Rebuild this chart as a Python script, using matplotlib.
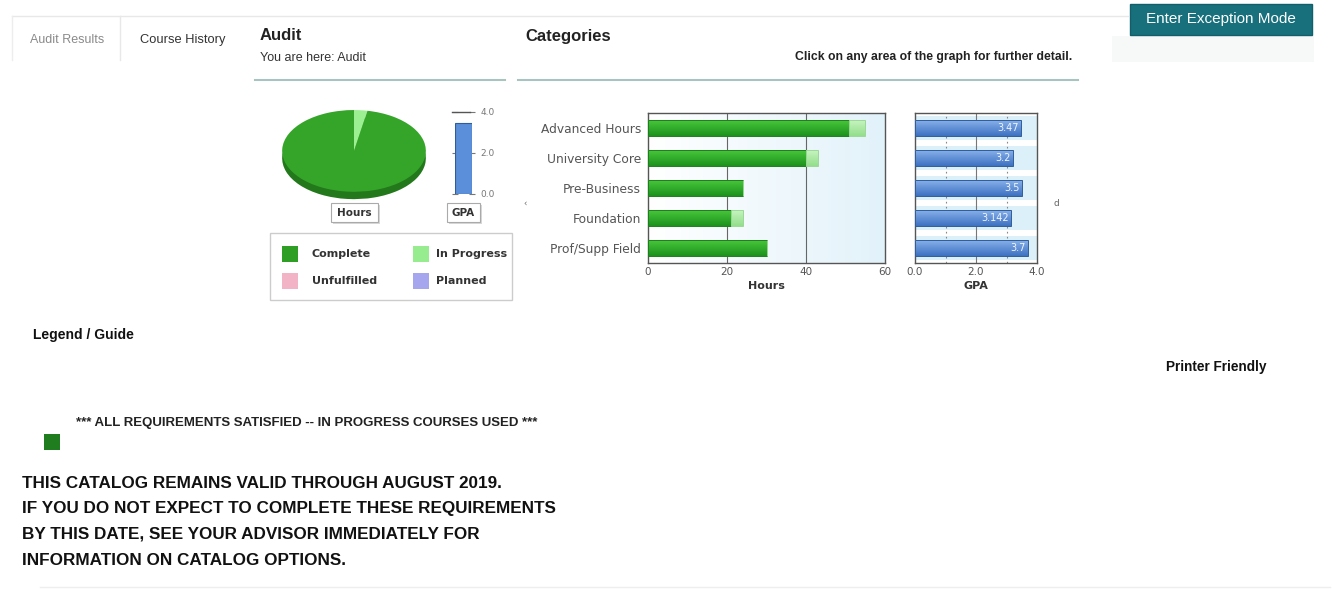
import numpy as np
import matplotlib
matplotlib.use('Agg')
import matplotlib.pyplot as plt
from matplotlib.patches import Rectangle
from matplotlib.colors import LinearSegmentedColormap

plt.rcParams['font.family'] = ['Liberation Sans', 'DejaVu Sans']

# values
categories = ['Advanced Hours', 'University Core', 'Pre-Business', 'Foundation', 'Prof/Supp Field']
complete_hours = [51, 40, 24, 21, 30]
in_progress_hours = [4, 3, 0, 3, 0]
category_gpa = [3.47, 3.2, 3.5, 3.142, 3.7]
gpa_labels = ['3.47', '3.2', '3.5', '3.142', '3.7']
overall_gpa = 3.47
pie_labels = ['In Progress', 'Complete']
pie_share = [3, 97]
hours_ticks = [0, 20, 40, 60]
gpa_ticks = [0.0, 2.0, 4.0]
legend_labels = ['Complete', 'In Progress', 'Unfulfilled', 'Planned']
legend_colors = ['#2e9e24', '#98ec90', '#f2b3c6', '#a6a6ee']
catalog_lines = [
    'THIS CATALOG REMAINS VALID THROUGH AUGUST 2019.',
    'IF YOU DO NOT EXPECT TO COMPLETE THESE REQUIREMENTS',
    'BY THIS DATE, SEE YOUR ADVISOR IMMEDIATELY FOR',
    'INFORMATION ON CATALOG OPTIONS.',
]

W, H = 1336, 590
CHART_FONT = 'DejaVu Sans'


def box(x0, y0, x1, y1):
    # pixel box (top-left origin) -> figure rect
    return [x0 / W, 1 - y1 / H, (x1 - x0) / W, (y1 - y0) / H]


def gradient_bars(ax, bars, top, bottom):
    cmap = LinearSegmentedColormap.from_list('g', [top, bottom])
    grad = np.linspace(0, 1, 32).reshape(-1, 1)
    for b in bars:
        if b.get_width() <= 0:
            continue
        x, y = b.get_x(), b.get_y()
        im = ax.imshow(grad, cmap=cmap, aspect='auto', origin='lower',
                       extent=[x, x + b.get_width(), y, y + b.get_height()],
                       zorder=2.9)
        im.set_clip_path(b)


def chart_axis_style(ax):
    for s in ax.spines.values():
        s.set_color('#555555')
        s.set_linewidth(1.0)
    ax.tick_params(length=0, colors='#555555')


fig = plt.figure(figsize=(W / 100, H / 100), dpi=100)

# ---- page layer (pixel coordinates) ----
page = fig.add_axes([0, 0, 1, 1], zorder=0)
page.set_xlim(0, W)
page.set_ylim(H, 0)
page.axis('off')

page.plot([12, 1128], [16, 16], color='#e8e8e8', lw=1)
page.plot([12, 12], [16, 60], color='#ededed', lw=1)
page.plot([120, 120], [16, 60], color='#e8e8e8', lw=1)
page.text(30, 40, 'Audit Results', fontsize=9, color='#8a8a8a', va='center')
page.text(140, 40, 'Course History', fontsize=9.3, color='#333333', va='center')

page.text(260, 36, 'Audit', fontsize=12, fontweight='bold', color='#222222', va='center')
page.text(260, 58, 'You are here: Audit', fontsize=9, color='#333333', va='center')
page.text(525, 37, 'Categories', fontsize=12, fontweight='bold', color='#222222', va='center')
page.text(1072, 57, 'Click on any area of the graph for further detail.', fontsize=8.8,
          fontweight='bold', color='#222222', va='center', ha='right')
page.plot([255, 505], [80, 80], color='#a9c4c0', lw=1.5)
page.plot([518, 1078], [80, 80], color='#a9c4c0', lw=1.5)

page.add_patch(Rectangle((1112, 36), 202, 26, fc='#f7f9f9', ec='none'))
page.add_patch(Rectangle((1130, 4), 182, 31, fc='#17707c', ec='#125f69', lw=1))
page.text(1221, 19.5, 'Enter Exception Mode', fontsize=11, color='white', ha='center', va='center')

# buttons under the pie and the overall GPA bar
for (x0, x1, lab) in [(331, 378, 'Hours'), (447, 480, 'GPA')]:
    page.add_patch(Rectangle((x0 + 1.5, 204.5), x1 - x0, 19, fc='#d8d8d8', ec='none'))
    page.add_patch(Rectangle((x0, 203), x1 - x0, 19, fc='white', ec='#aaaaaa', lw=0.8))
    page.text((x0 + x1) / 2, 213, lab, family=CHART_FONT, fontsize=7.5, fontweight='bold',
              color='#333333', ha='center', va='center')

# colour legend box
page.add_patch(Rectangle((270, 233), 242, 67, fc='white', ec='#cccccc', lw=1))
legend_spots = [(282, 254), (413, 254), (282, 281), (413, 281)]
for (sx, sy), lab, col in zip(legend_spots, legend_labels, legend_colors):
    page.add_patch(Rectangle((sx, sy - 8), 16, 16, fc=col, ec='none'))
    page.text(sx + 30 if sx < 400 else sx + 23, sy, lab, family=CHART_FONT, fontsize=8,
              fontweight='bold', color='#333333', va='center')

page.text(523, 204, '\u2039', family=CHART_FONT, fontsize=6, color='#666666', va='center')
page.text(1054, 203, 'd', family=CHART_FONT, fontsize=6.5, color='#666666', va='center')

page.text(33, 335, 'Legend / Guide', fontsize=10, fontweight='bold', color='#111111', va='center')
page.text(1166, 367, 'Printer Friendly', fontsize=9.8, fontweight='bold', color='#111111', va='center')
page.text(76, 423, '*** ALL REQUIREMENTS SATISFIED -- IN PROGRESS COURSES USED ***', fontsize=9.5,
          fontweight='bold', color='#222222', va='center')
page.add_patch(Rectangle((44, 434), 16, 16, fc='#1f7d1f', ec='none'))
for i, line in enumerate(catalog_lines):
    page.text(22, 483 + i * 25.7, line, fontsize=12.3, fontweight='bold', color='#111111', va='center')
page.plot([40, 1330], [587, 587], color='#eeeeee', lw=1)

# ---- pie of hours ----
pa = fig.add_axes(box(280, 108, 428, 202), zorder=1)
pa.pie(pie_share, startangle=90, counterclock=False, colors=['#6cc45e', '#22781a'],
       center=(0, -0.18), wedgeprops=dict(lw=0))
pa.pie(pie_share, startangle=90, counterclock=False, colors=['#9cf092', '#35a52a'],
       wedgeprops=dict(lw=0))
pa.set_aspect('auto')
pa.set_xlim(-1.03, 1.03)
pa.set_ylim(-1.25, 1.05)
pa.axis('off')

# ---- overall GPA bar ----
ma = fig.add_axes(box(455, 112, 472, 194), zorder=1)
ma.bar([0], [overall_gpa], width=1.0, color='#5b8fd9', edgecolor='#2f5c9c', lw=0.8, zorder=3)
ma.axhline(4.0, xmin=-0.2, xmax=0.9, color='#555555', lw=1, clip_on=False)
ma.set_xlim(-0.5, 0.5)
ma.set_ylim(0, 4)
ma.set_yticks(gpa_ticks)
ma.set_yticklabels([f'{t:.1f}' for t in gpa_ticks], family=CHART_FONT)
ma.set_xticks([])
for s in ma.spines.values():
    s.set_visible(False)
ma.tick_params(axis='y', left=True, right=True, labelleft=False, labelright=True,
               direction='inout', length=4, colors='#777777', labelsize=6.5, pad=4)
ma.patch.set_alpha(0)

# ---- hours by category ----
y = np.arange(len(categories))
ax = fig.add_axes(box(648, 113, 885, 263), zorder=1)
bg = LinearSegmentedColormap.from_list('bg', ['#ffffff', '#e2f2fa'])
ax.imshow(np.linspace(0, 1, 256).reshape(1, -1), cmap=bg, aspect='auto',
          extent=[0, 60, 4.5, -0.5], zorder=0)
done = ax.barh(y, complete_hours, height=0.55, facecolor='none', edgecolor='#1d7f1d', lw=0.7, zorder=3)
prog = ax.barh(y, in_progress_hours, left=complete_hours, height=0.55, facecolor='none',
               edgecolor='#9ad996', lw=0.7, zorder=3)
gradient_bars(ax, done, '#4bc93d', '#1d931d')
gradient_bars(ax, prog, '#c9f5c2', '#94df8c')
for v in hours_ticks[1:-1]:
    ax.axvline(v, color='#666666', lw=0.8, zorder=1)
ax.set_xlim(0, 60)
ax.set_ylim(4.5, -0.5)
ax.set_xticks(hours_ticks)
ax.set_xticklabels([str(t) for t in hours_ticks], family=CHART_FONT, fontsize=7.5)
ax.set_yticks(y)
ax.set_yticklabels(categories, family=CHART_FONT, fontsize=8.8)
chart_axis_style(ax)
ax.tick_params(axis='y', pad=5)
ax.tick_params(axis='x', pad=3)
ax.set_xlabel('Hours', family=CHART_FONT, fontsize=8, fontweight='bold', color='#333333', labelpad=3)

# ---- GPA by category ----
ga = fig.add_axes(box(915, 113, 1037, 263), zorder=1)
for i in y:
    ga.axhspan(i - 0.4, i + 0.4, color='#dcf0fa', zorder=0, lw=0)
gbars = ga.barh(y, category_gpa, height=0.55, facecolor='none', edgecolor='#2f5c9c', lw=0.7, zorder=3)
gradient_bars(ga, gbars, '#8cb4ec', '#3e72c2')
for i, (v, lab) in enumerate(zip(category_gpa, gpa_labels)):
    ga.text(v - 0.06, i, lab, family=CHART_FONT, fontsize=7, color='#f0f5ff',
            ha='right', va='center', zorder=4)
ga.axvline(2.0, color='#777777', lw=0.8, zorder=1)
for v in [1.0, 3.0]:
    ga.axvline(v, color='#888888', lw=0.8, ls=(0, (1.5, 3)), zorder=1)
ga.set_xlim(0, 4.0)
ga.set_ylim(4.5, -0.5)
ga.set_xticks(gpa_ticks)
ga.set_xticklabels([f'{t:.1f}' for t in gpa_ticks], family=CHART_FONT, fontsize=7.5)
ga.set_yticks([])
chart_axis_style(ga)
ga.tick_params(axis='x', pad=3)
ga.set_xlabel('GPA', family=CHART_FONT, fontsize=8, fontweight='bold', color='#333333', labelpad=3)

fig.savefig('out.png', dpi=100, facecolor='white')
